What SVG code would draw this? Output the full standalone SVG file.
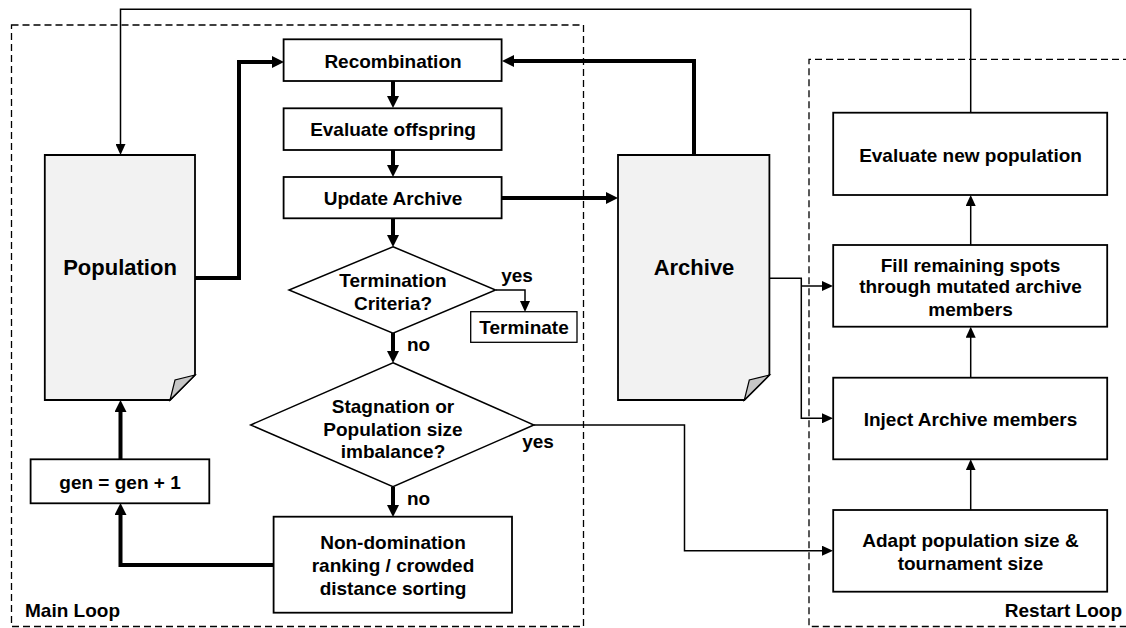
<svg xmlns="http://www.w3.org/2000/svg" width="1126" height="628" viewBox="0 0 1126 628">
<style>
text{font-family:"Liberation Sans",Arial,sans-serif;font-weight:bold;font-size:19px;fill:#000;text-anchor:middle}
.big{font-size:22px}
.box{fill:#fff;stroke:#000;stroke-width:1.8}
.doc{fill:#f2f2f2;stroke:#000;stroke-width:1.8}
.fold{fill:#c6c6c6;stroke:#000;stroke-width:1.2}
.dash{fill:none;stroke:#000;stroke-width:1.3;stroke-dasharray:7 4}
.thick{fill:none;stroke:#000;stroke-width:4;marker-end:url(#ah)}
.thick2{fill:none;stroke:#000;stroke-width:4}
.thin{fill:none;stroke:#000;stroke-width:1.5;marker-end:url(#as)}
.thin2{fill:none;stroke:#000;stroke-width:1.5}
</style>
<defs>
<marker id="ah" markerUnits="userSpaceOnUse" markerWidth="12" markerHeight="12" refX="2" refY="6" orient="auto"><path d="M0,0 L12,6 L0,12 z" fill="#000"/></marker>
<marker id="as" markerUnits="userSpaceOnUse" markerWidth="11" markerHeight="10" refX="2" refY="5" orient="auto"><path d="M0,0 L11,5 L0,10 z" fill="#000"/></marker>
</defs>
<rect width="1126" height="628" fill="#fff"/>
<g id="main-loop">
<rect class="dash" x="11.5" y="25" width="572" height="601.5"/>
<text x="25" y="617" style="text-anchor:start">Main Loop</text>
</g>
<g id="restart-loop">
<path class="dash" d="M1130,59.3 H809 V626.5 H1130"/>
<text x="1122" y="617" style="text-anchor:end">Restart Loop</text>
</g>
<g id="connectors">
<path class="thick" d="M195,278 H239 V62 H274"/>
<path class="thick" d="M393,81 V98"/>
<path class="thick" d="M393,150 V167"/>
<path class="thick" d="M393,218 V237"/>
<path class="thick" d="M393,333 V353"/>
<path class="thick" d="M393,487 V507"/>
<path class="thick" d="M274,565 H120.5 V513"/>
<path class="thick" d="M120.5,459 V410"/>
<path class="thick" d="M502,198 H608"/>
<path class="thick" d="M694,155 V61 H512"/>
<path class="thin" d="M496,290 H525 V303"/>
<path class="thin" d="M534,425 H684.5 V550.7 H824"/>
<path class="thin" d="M769.4,278.3 H801.3 V418.3 H824"/>
<path class="thin" d="M801.3,286 H824"/>
<path class="thin" d="M970.7,510 V468.3"/>
<path class="thin" d="M970.7,377.7 V335.7"/>
<path class="thin" d="M970.7,245 V204"/>
<path class="thin" d="M970.7,112.7 V9.3 H120.5 V146"/>
<text x="517" y="282">yes</text>
<text x="538" y="448">yes</text>
<text x="407" y="351" style="text-anchor:start">no</text>
<text x="407" y="505" style="text-anchor:start">no</text>
</g>
<g id="population">
<path class="doc" d="M44.8,155 H195 V375 L170,400 H44.8 Z"/>
<path class="fold" d="M195,375 L175,380 L170,400 Z"/>
<text class="big" x="120" y="275">Population</text>
</g>
<g id="archive">
<path class="doc" d="M618,155 H769.4 V375 L744.3,400 H618 Z"/>
<path class="fold" d="M769.4,375 L749.3,380 L744.3,400 Z"/>
<text class="big" x="694" y="275">Archive</text>
</g>
<g id="recombination">
<rect class="box" x="283.6" y="39.3" width="218" height="41.7"/>
<text x="393" y="68">Recombination</text>
</g>
<g id="evaluate-offspring">
<rect class="box" x="283.6" y="108.3" width="218" height="41.7"/>
<text x="393" y="136">Evaluate offspring</text>
</g>
<g id="update-archive">
<rect class="box" x="283.6" y="177" width="218" height="41.3"/>
<text x="393" y="205">Update Archive</text>
</g>
<g id="termination">
<polygon class="box" style="stroke-width:1.5" points="393,246.7 495.6,290 393,333.3 289,290"/>
<text x="393" y="286.5">Termination</text>
<text x="393" y="310">Criteria?</text>
</g>
<g id="terminate">
<rect class="box" style="stroke-width:1.3" x="470.7" y="311.7" width="106.3" height="30.6"/>
<text x="524" y="334">Terminate</text>
</g>
<g id="stagnation">
<polygon class="box" style="stroke-width:1.5" points="393,362.7 533.9,425 393,486.7 250.7,425"/>
<text x="393" y="413">Stagnation or</text>
<text x="393" y="435.5">Population size</text>
<text x="393" y="458">imbalance?</text>
</g>
<g id="non-domination">
<rect class="box" x="273.6" y="516.7" width="238.4" height="96"/>
<text x="393" y="549">Non-domination</text>
<text x="393" y="572">ranking / crowded</text>
<text x="393" y="595">distance sorting</text>
</g>
<g id="gen">
<rect class="box" x="30.6" y="459.3" width="178.7" height="44"/>
<text x="120" y="489">gen = gen + 1</text>
</g>
<g id="evaluate-new-population">
<rect class="box" x="833.2" y="112.7" width="274" height="82.3"/>
<text x="970.5" y="161.7">Evaluate new population</text>
</g>
<g id="fill-remaining">
<rect class="box" x="833.2" y="245" width="274" height="81.7"/>
<text x="970.5" y="271.7">Fill remaining spots</text>
<text x="970.5" y="293">through mutated archive</text>
<text x="970.5" y="316">members</text>
</g>
<g id="inject-archive">
<rect class="box" x="833.2" y="377.7" width="274" height="81.6"/>
<text x="970.5" y="426">Inject Archive members</text>
</g>
<g id="adapt-population">
<rect class="box" x="833.2" y="510" width="274" height="81.7"/>
<text x="970.5" y="547">Adapt population size &amp;</text>
<text x="970.5" y="570">tournament size</text>
</g>
</svg>
